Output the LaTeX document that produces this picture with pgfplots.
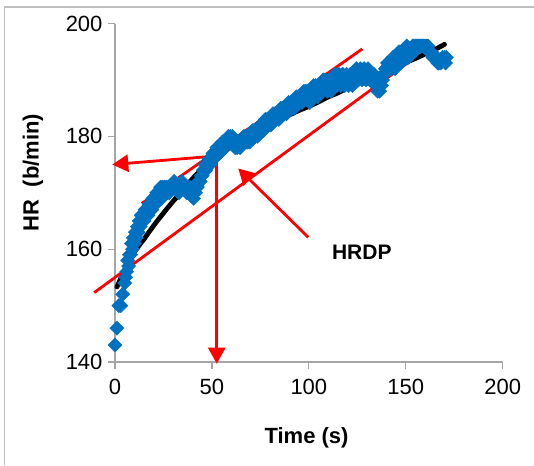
\documentclass[border=0pt]{standalone}
\usepackage{pgfplots}
\pgfplotsset{compat=1.18}
\usepackage{fontspec}
\setmainfont{Liberation Sans}
\usetikzlibrary{arrows.meta}
\definecolor{xlblue}{RGB}{0,112,192}
\definecolor{axgray}{RGB}{166,166,166}
\definecolor{framegray}{RGB}{190,190,190}
\begin{document}
\begin{tikzpicture}
\path[use as bounding box] (0pt,0pt) rectangle (534pt,-465pt);
\draw[framegray, line width=1.2pt] (4.5pt,-465pt) -- (4.5pt,-7pt) -- (534pt,-7pt);
\begin{axis}[
  at={(115pt,-362pt)}, anchor=south west,
  scale only axis, width=387.7pt, height=338.5pt,
  xmin=0, xmax=200, ymin=140, ymax=200,
  xtick={0,50,100,150,200}, ytick={140,160,180,200},
  axis x line*=bottom, axis y line*=left,
  axis line style={axgray, line width=1.2pt},
  tick style={axgray, line width=1.2pt},
  tick align=outside, major tick length=7pt,
  /pgf/number format/assume math mode=true,
  ticklabel style={font=\fontsize{22}{26}\selectfont},
  xticklabel style={yshift=-7pt},
  yticklabel style={xshift=-2pt},
  xlabel={\textbf{Time (s)}}, ylabel={\textbf{HR\ \ (b/min)}},
  label style={font=\fontsize{22}{26}\selectfont},
  xlabel style={at={(rel axis cs:0.494,-0.2254)}, anchor=center},
  ylabel style={at={(rel axis cs:-0.2115,0.56)}, anchor=center},
  clip=false,
]
\addplot[only marks, mark=square*, mark size=5pt, mark options={rotate=45, xlblue, draw=xlblue}] coordinates {
(0,143) (1,146) (2,150) (3,150) (4,152) (5,154) (6,156) (7,157) (8,159) (9,160)
(10,161) (11,162) (12,163) (13,164) (14,165) (15,165) (16,166) (17,166) (18,167) (19,167)
(20,168) (21,168) (22,169) (23,169) (24,169) (25,170) (26,170) (27,170) (28,170) (29,171)
(30,171) (31,171) (32,171) (33,170) (34,171) (35,171) (36,171) (37,170) (38,170) (39,170)
(40,170) (41,170) (42,171) (43,172) (44,172) (45,173) (46,174) (47,174) (48,175) (49,175)
(50,176) (51,176) (52,177) (53,177) (54,177) (55,178) (56,178) (57,178) (58,179) (59,179)
(60,179) (61,179) (62,178) (63,178) (64,179) (65,179) (66,179) (67,179) (68,179) (69,180)
(70,180) (71,181) (72,181) (73,181) (74,181) (75,182) (76,182) (77,182) (78,182) (79,182)
(80,183) (81,183) (82,183) (83,183) (84,184) (85,184) (86,184) (87,184) (88,185) (89,185)
(90,185) (91,185) (92,186) (93,186) (94,186) (95,186) (96,187) (97,187) (98,187) (99,187)
(100,187) (101,188) (102,188) (103,188) (104,188) (105,188) (106,189) (107,189) (108,189) (109,189)
(110,189) (111,189) (112,190) (113,190) (114,190) (115,190) (116,190) (117,190) (118,190) (119,190)
(120,190) (121,190) (122,190) (123,191) (124,191) (125,191) (126,191) (127,191) (128,191) (129,191)
(130,191) (131,191) (132,191) (133,190) (134,190) (135,189) (136,189) (137,189) (138,190) (139,191)
(140,192) (141,192) (142,192) (143,193) (144,193) (145,193) (146,194) (147,194) (148,194) (149,195)
(150,195) (151,195) (152,195) (153,195) (154,196) (155,196) (156,196) (157,196) (158,196) (159,196)
(160,196) (161,196) (162,195) (163,195) (164,194) (165,194) (166,194) (167,193) (168,193) (169,194)
(170,194) (171,194)
};
\addplot[only marks, mark=square*, mark size=5pt, mark options={rotate=45, xlblue, draw=xlblue}] coordinates {
(5.5,155) (6.5,158) (7.5,159) (8.5,161) (9.5,162) (10.5,163) (11.5,164) (12.5,165) (13.5,166) (14.5,166)
(15.5,167) (16.5,167) (17.5,168) (18.5,168) (19.5,169) (20.5,169) (21.5,170) (22.5,170) (23.5,171) (24.5,171)
(25.5,171) (26.5,171) (27.5,171) (28.5,171) (29.5,171) (30.5,172) (31.5,171) (32.5,171) (33.5,171) (34.5,172)
(35.5,171) (36.5,171) (37.5,171) (38.5,171) (39.5,170) (40.5,169) (41.5,170) (42.5,171) (43.5,172) (44.5,173)
(45.5,174) (46.5,175) (47.5,175) (48.5,176) (49.5,176) (50.5,177) (51.5,177) (52.5,178) (53.5,178) (54.5,178)
(55.5,179) (56.5,179) (57.5,179) (58.5,180) (59.5,180) (60.5,180) (61.5,179) (62.5,179) (63.5,179) (64.5,178)
(65.5,179) (66.5,180) (67.5,180) (68.5,179) (69.5,179) (70.5,180) (71.5,180) (72.5,180) (73.5,180) (74.5,181)
(75.5,181) (76.5,181) (77.5,183) (78.5,183) (79.5,183) (80.5,182) (81.5,184) (82.5,184) (83.5,184) (84.5,183)
(85.5,185) (86.5,185) (87.5,185) (88.5,184) (89.5,186) (90.5,186) (91.5,186) (92.5,185) (93.5,187) (94.5,187)
(95.5,187) (96.5,186) (97.5,188) (98.5,188) (99.5,188) (100.5,186) (101.5,187) (102.5,189) (103.5,189) (104.5,187)
(105.5,189) (106.5,188) (107.5,190) (108.5,190) (109.5,188) (110.5,190) (111.5,188) (112.5,189) (113.5,191) (114.5,189)
(115.5,191) (116.5,189) (117.5,191) (118.5,189) (119.5,191) (120.5,189) (121.5,191) (122.5,189) (123.5,190) (124.5,192)
(125.5,190) (126.5,192) (127.5,190) (128.5,192) (129.5,190) (130.5,192) (131.5,190) (132.5,190) (133.5,191) (134.5,189)
(135.5,188) (136.5,188) (137.5,189) (138.5,191) (139.5,192) (140.5,193) (141.5,193) (142.5,192) (143.5,194) (144.5,192)
(145.5,193) (146.5,195) (147.5,193) (148.5,195) (149.5,194) (150.5,196) (151.5,194) (152.5,195) (153.5,196) (154.5,195)
(155.5,196) (156.5,196) (157.5,196) (158.5,196) (159.5,196) (160.5,196) (161.5,196) (162.5,195) (166.5,193) (170.5,193)
};
\addplot[black, line width=4.8pt, line cap=round, smooth] coordinates {
(1,153.3) (5,156.3) (10,159.5) (15,161.8) (20,164.2) (25,166.4) (30,168.5) (35,170.4)
(40,172.5) (45,174.2) (50,175.6) (55,177.0) (60,178.2) (65,179.2) (70,180.2) (75,181.2)
(80,182.1) (85,183.0) (90,183.8) (95,184.6) (100,185.3) (105,186.1) (110,187.0) (115,187.7)
(120,188.6) (125,189.4) (130,190.2) (135,190.9) (140,191.6) (145,192.3) (150,193.1)
(155,193.8) (160,194.6) (165,195.4) (170,196.3)
};
\addplot[red, line width=2.8pt] coordinates {(13.8,168.1) (127.6,195.5)};
\addplot[red, line width=2.8pt] coordinates {(-10.7,152.3) (153.9,193.75)};
\addplot[red, line width=2.8pt, -{Triangle[length=16pt,width=17pt]}] coordinates {(51.6,176.5) (-1.4,175.0)};
\addplot[red, line width=2.8pt, -{Triangle[length=16pt,width=17pt]}] coordinates {(52.5,175.6) (52.5,139.7)};
\addplot[red, line width=2.8pt, -{Triangle[length=16pt,width=17pt]}] coordinates {(99.7,162.1) (63.6,174.3)};
\node[font=\fontsize{21}{25}\selectfont\bfseries] at (axis cs:127.3,159.4) {HRDP};
\end{axis}
\end{tikzpicture}
\end{document}
